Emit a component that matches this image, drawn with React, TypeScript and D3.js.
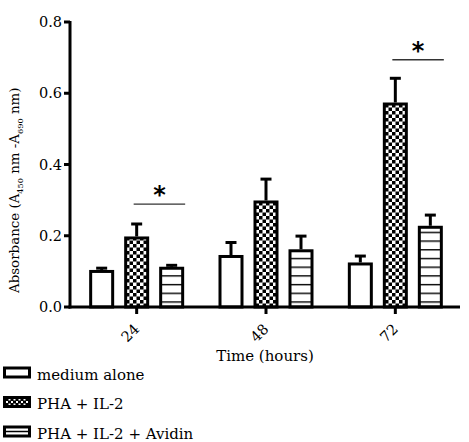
import * as d3 from 'd3';

const timePoints = ['24', '48', '72'];
const seriesNames = ['medium alone', 'PHA + IL-2', 'PHA + IL-2 + Avidin'];
const mediumAlone = [0.104, 0.146, 0.125];
const mediumAloneErr = [0.005, 0.035, 0.018];
const phaIl2 = [0.198, 0.299, 0.574];
const phaIl2Err = [0.035, 0.06, 0.068];
const phaIl2Avidin = [0.113, 0.162, 0.228];
const phaIl2AvidinErr = [0.004, 0.037, 0.03];
const yTicks = [0, 0.2, 0.4, 0.6, 0.8];
// significance bars: time point and height (in absorbance units)
const sigTimes = ['24', '72'];
const sigLevels = [0.289, 0.694];

const W = 469;
const H = 442;
const FONT = '"DejaVu Serif", serif';
const fills = ['#fff', 'url(#checker)', 'url(#stripes)'];

export default function App() {
  const x = d3.scaleBand().domain(timePoints).range([72, 460]).padding(0);
  const inner = d3
    .scaleBand()
    .domain(seriesNames)
    .range([-52.5, 52.5])
    .paddingInner(2 / 7)
    .paddingOuter(1 / 7);
  const y = d3.scaleLinear().domain([0, 0.8]).range([307, 22]);
  const cx = (t: string) => (x(t) ?? 0) + x.bandwidth() / 2;

  const values = [mediumAlone, phaIl2, phaIl2Avidin];
  const errors = [mediumAloneErr, phaIl2Err, phaIl2AvidinErr];
  const bw = inner.bandwidth();
  const sw = 3;

  const bars = timePoints.flatMap((t, ti) =>
    seriesNames.map((s, si) => ({
      t,
      s,
      si,
      x0: cx(t) + (inner(s) ?? 0),
      v: values[si][ti],
      e: errors[si][ti],
    }))
  );

  return (
    <svg width={W} height={H} style={{ position: 'absolute', left: 0, top: 0 }}>
      <defs>
        <pattern id="checker" patternUnits="userSpaceOnUse" width={7} height={7} y={y(0)}>
          <rect width={7} height={7} fill="#fff" />
          <rect width={3.5} height={3.5} fill="#000" />
          <rect x={3.5} y={3.5} width={3.5} height={3.5} fill="#000" />
        </pattern>
        <pattern id="stripes" patternUnits="userSpaceOnUse" width={8} height={8.7} y={y(0) + 3}>
          <rect width={8} height={8.7} fill="#fff" />
          <rect width={8} height={1.4} fill="#000" />
        </pattern>
        <pattern id="checkerSmall" patternUnits="userSpaceOnUse" width={5} height={5} x={3} y={398}>
          <rect width={5} height={5} fill="#000" />
          <rect x={0.5} y={0.5} width={2} height={2} fill="#fff" />
          <rect x={3} y={3} width={2} height={2} fill="#fff" />
        </pattern>
      </defs>

      {/* bars */}
      {bars.map((b, i) => (
        <rect
          key={i}
          x={b.x0 + sw / 2}
          y={y(b.v) + sw / 2}
          width={bw - sw}
          height={y(0) - y(b.v) - sw / 2}
          fill={fills[b.si]}
          stroke="#000"
          strokeWidth={sw}
        />
      ))}

      {/* error bars (upper only) */}
      {bars.map((b, i) => {
        const mx = b.x0 + bw / 2;
        return (
          <g key={i} stroke="#000" strokeWidth={3}>
            <line x1={mx} x2={mx} y1={y(b.v)} y2={y(b.v + b.e)} />
            <line x1={mx - 5.5} x2={mx + 5.5} y1={y(b.v + b.e)} y2={y(b.v + b.e)} />
          </g>
        );
      })}

      {/* significance marks */}
      {sigTimes.map((t, i) => {
        const x1 = cx(t) - 3;
        const x2 = cx(t) + (inner(seriesNames[2]) ?? 0) + bw + 1;
        const yy = y(sigLevels[i]);
        return (
          <g key={t}>
            <line x1={x1} x2={x2} y1={yy} y2={yy} stroke="#333" strokeWidth={1.3} />
            <text
              x={(x1 + x2) / 2}
              y={yy - 1}
              textAnchor="middle"
              fontFamily='"DejaVu Sans", sans-serif'
              fontWeight="bold"
              fontSize={24}
            >
              *
            </text>
          </g>
        );
      })}

      {/* axes */}
      <line x1={70} x2={70} y1={y(0.8) - 1} y2={y(0) + 1.5} stroke="#000" strokeWidth={3} />
      <line x1={68.5} x2={460} y1={y(0)} y2={y(0)} stroke="#000" strokeWidth={3} />
      {yTicks.map((v) => (
        <g key={v}>
          <line x1={64} x2={70} y1={y(v)} y2={y(v)} stroke="#000" strokeWidth={3} />
          <text
            x={62}
            y={y(v)}
            dy="0.35em"
            textAnchor="end"
            fontFamily={FONT}
            fontSize={14.5}
          >
            {v.toFixed(1)}
          </text>
        </g>
      ))}
      {timePoints.map((t) => (
        <g key={t}>
          <line x1={cx(t)} x2={cx(t)} y1={y(0)} y2={y(0) + 7} stroke="#000" strokeWidth={3} />
          <text
            transform={`translate(${cx(t) - 6.5},${y(0) + 26}) rotate(-45)`}
            textAnchor="middle"
            dy="0.35em"
            fontFamily={FONT}
            fontSize={14.5}
          >
            {t}
          </text>
        </g>
      ))}

      <text x={265} y={361} textAnchor="middle" fontFamily={FONT} fontSize={15}>
        Time (hours)
      </text>

      <text
        transform="translate(19,293) rotate(-90)"
        textAnchor="start"
        fontFamily={FONT}
        fontSize={13.4}
      >
        Absorbance (A
        <tspan fontSize={8.2} dy={4}>450</tspan>
        <tspan dy={-4}> nm -A</tspan>
        <tspan fontSize={8.2} dy={4}>690</tspan>
        <tspan dy={-4}> nm)</tspan>
      </text>

      {/* legend */}
      {seriesNames.map((s, i) => {
        const top = 366.5 + i * 29.5;
        return (
          <g key={s}>
            <rect
              x={4.5}
              y={top + 1.5}
              width={25}
              height={9}
              fill={i === 1 ? 'url(#checkerSmall)' : '#fff'}
              stroke="#000"
              strokeWidth={3}
            />
            {i === 2 && <line x1={4} x2={30} y1={top + 6} y2={top + 6} stroke="#000" strokeWidth={1.5} />}
            <text x={37} y={top + 13} fontFamily={FONT} fontSize={15}>
              {s}
            </text>
          </g>
        );
      })}
    </svg>
  );
}
